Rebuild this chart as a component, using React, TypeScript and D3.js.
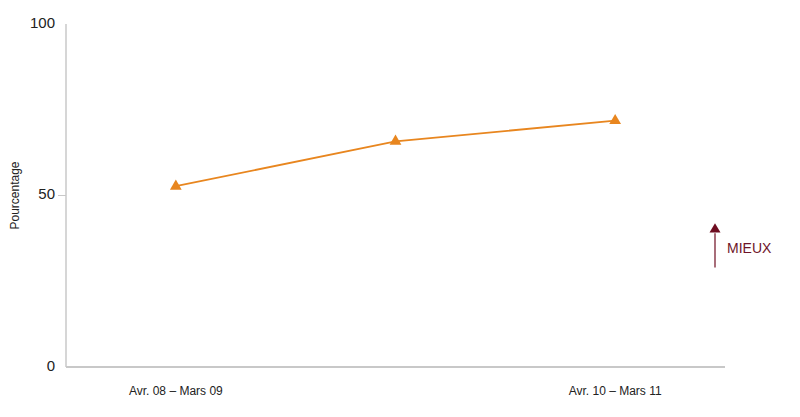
import * as d3 from 'd3'

const periods = ['Avr. 08 – Mars 09', 'Avr. 09 – Mars 10', 'Avr. 10 – Mars 11']
const periodLabels = ['Avr. 08 – Mars 09', '', 'Avr. 10 – Mars 11']
const values = [52.7, 65.8, 71.8]
const yTicks = [0, 50, 100]

const width = 800
const height = 417
const margin = { top: 24, right: 75, bottom: 50, left: 66 }

export default function App() {
  const x = d3.scaleBand<string>()
    .domain(periods)
    .range([margin.left, width - margin.right])
  const y = d3.scaleLinear()
    .domain([0, 100])
    .range([height - margin.bottom, margin.top])

  const cx = (p: string) => (x(p) ?? 0) + x.bandwidth() / 2

  const line = d3.line<number>()
    .x((_, i) => cx(periods[i]))
    .y(d => y(d))

  const tri = d3.symbol().type(d3.symbolTriangle).size(60)()

  const axisColor = '#c8c8c8'
  const font = '"Liberation Sans", Arial, sans-serif'

  return (
    <svg
      width={width}
      height={height}
      style={{ position: 'absolute', left: 0, top: 0, display: 'block', background: '#fff' }}
      fontFamily={font}
    >
      {/* y axis */}
      <line x1={margin.left} x2={margin.left} y1={y(100)} y2={y(0)} stroke={axisColor} strokeWidth={1.5} />
      {yTicks.map(t => (
        <g key={t}>
          {t !== 0 && t !== 100 && (
            <line x1={margin.left - 8} x2={margin.left} y1={y(t)} y2={y(t)} stroke={axisColor} strokeWidth={1} />
          )}
          <text x={55} y={y(t) - 1.5} dy="0.35em" textAnchor="end" fontSize={15} fill="#222">{t}</text>
        </g>
      ))}
      <text
        transform={`translate(19,${y(50)}) rotate(-90)`}
        textAnchor="middle"
        fontSize={12}
        fill="#222"
      >
        Pourcentage
      </text>

      {/* x axis */}
      <line x1={margin.left} x2={width - margin.right} y1={y(0)} y2={y(0)} stroke={axisColor} strokeWidth={2} />
      {periods.map((p, i) => (
        <text key={p} x={cx(p)} y={395} textAnchor="middle" fontSize={12} fill="#222">
          {periodLabels[i]}
        </text>
      ))}

      {/* series */}
      <path d={line(values) ?? ''} fill="none" stroke="#e8861f" strokeWidth={1.8} />
      {values.map((v, i) => (
        <path key={i} d={tri ?? ''} transform={`translate(${cx(periods[i])},${y(v)})`} fill="#e8861f" />
      ))}

      {/* better arrow */}
      <line x1={715} x2={715} y1={y(29)} y2={y(39)} stroke="#6e0d20" strokeWidth={1.2} />
      <path d={`M709.5,${y(39.2)} L720.5,${y(39.2)} L715,${y(41.9)} Z`} fill="#6e0d20" />
      <text x={727} y={253} fontSize={14} fill="#6e1428">MIEUX</text>
    </svg>
  )
}
